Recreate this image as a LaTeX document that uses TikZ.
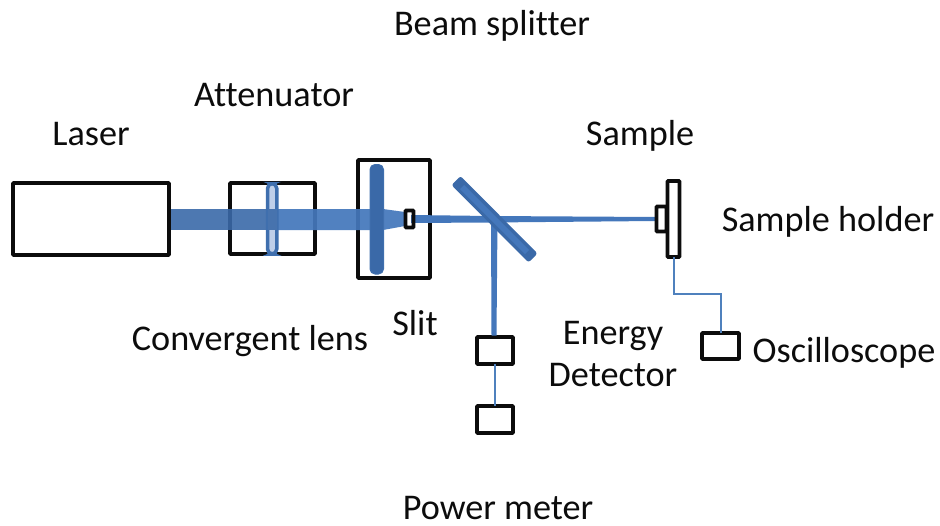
\documentclass[tikz,border=0pt]{standalone}
\usepackage{fontspec}
\setmainfont[Ligatures=NoCommon]{Carlito}
\definecolor{beam}{HTML}{4477BB}
\definecolor{beamdark}{HTML}{3A69A8}
\definecolor{lensedge}{HTML}{3F6FAE}
\definecolor{lenslight}{HTML}{BFCFE9}
\definecolor{wire}{HTML}{4F81BD}
\definecolor{ink}{HTML}{0C0C0C}
\tikzset{
  box/.style={draw=ink,line width=3.6pt,fill=none,inner sep=0pt,outer sep=0pt,rounded corners=0.6pt},
  lbl/.style={font=\fontsize{36.2}{42}\selectfont,text=ink,inner sep=0pt,text height=24pt,text depth=7pt},
  wireline/.style={draw=wire,line width=2pt}
}
\begin{document}
\begin{tikzpicture}[x=1pt,y=-1pt]
\useasboundingbox (0,0) rectangle (940,525);
% boxes behind the beam
\node[box,minimum width=156pt,minimum height=72pt] (laser) at (91,219) {};
\node[box,minimum width=85pt,minimum height=71pt] (att) at (272.5,218.5) {};
\node[box,minimum width=72pt,minimum height=118pt] (slitbox) at (394,219) {};
\node[box,minimum width=12pt,minimum height=76pt] (holder) at (673.5,219) {};
\node[box,minimum width=36pt,minimum height=27pt] (energy) at (495,350.5) {};
\node[box,minimum width=36pt,minimum height=27pt] (power) at (495,419.5) {};
\node[box,minimum width=37pt,minimum height=26pt] (scope) at (720.5,346) {};
% beams
\fill[beamdark,opacity=.9] (171,209) rectangle (272,230);
\fill[beam,opacity=.93] (272,209) -- (372,209) -- (383,209) -- (405,212) -- (405,226) -- (383,230) -- (272,230) -- cycle;
\fill[beam] (411,215) -- (490,216) -- (656,217) -- (656,221) -- (490,222.5) -- (411,223) -- cycle;
\fill[beam] (491,220) -- (497.5,220) -- (496.5,335.5) -- (491.5,335.5) -- cycle;
% optical elements
\fill[lenslight,draw=lensedge,line width=3.5pt,rounded corners=5pt] (267.5,183.5) rectangle (276.8,254);
\fill[beamdark!90!lenslight] (268,209) rectangle (277,230);
\fill[beamdark,draw=lensedge,line width=1pt,rounded corners=5pt] (370,164.5) rectangle (383.5,274);
\fill[beamdark,rounded corners=2.5pt] (460.5,176) -- (537.5,253.5) -- (528.5,262.5) -- (451.5,185) -- cycle;
\draw[beam,line width=6pt] (462,187) -- (527,252);
% boxes in front of the beam
\node[box,minimum width=8pt,minimum height=17pt] (slit) at (409.5,219) {};
\node[box,minimum width=10pt,minimum height=25pt] (sample) at (661.5,219) {};
% wires
\draw[wireline] (energy.south) -- (power.north);
\draw[wireline] (holder.south) |- (scope.north |- 0,294) -- (scope.north);
% labels
\node[lbl] (tsplit) at (492,27) {Beam splitter};
\node[lbl] (tatt) at (274,98) {Attenuator};
\node[lbl] (tlaser) at (91,137) {Laser};
\node[lbl] (tsample) at (640,137) {Sample};
\node[lbl] (tholder) at (828,223) {Sample holder};
\node[lbl] (tconv) at (250,342) {Convergent lens};
\node[lbl] (tslit) at (415,327) {Slit};
\node[lbl] (tenergy) at (613,336) {Energy};
\node[lbl] (tdet) at (613,378) {Detector};
\node[lbl] (tscope) at (844,354) {Oscilloscope};
\node[lbl,text depth=0.5pt] (tpower) at (498,507.75) {Power meter};
\end{tikzpicture}
\end{document}
